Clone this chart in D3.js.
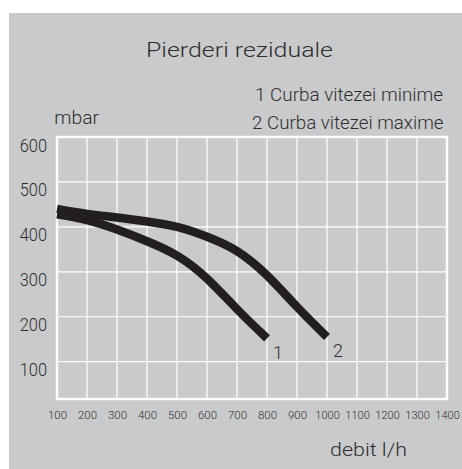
<!DOCTYPE html>
<html>
<head>
<meta charset="utf-8">
<script src="https://cdn.jsdelivr.net/npm/d3@7"></script>
<style>
  html, body { margin: 0; padding: 0; background: #ffffff; }
  svg { display: block; }
  text { font-family: Roboto, "DejaVu Sans", sans-serif; font-weight: 300; fill: #2e2e2e; }
</style>
</head>
<body>
<svg id="chart" width="462" height="469"></svg>
<script>
// ---- data ----
const xTickValues = [100, 200, 300, 400, 500, 600, 700, 800, 900, 1000, 1100, 1200, 1300, 1400];
const yTickValues = [100, 200, 300, 400, 500, 600];

// Curve 1: minimum speed (flow l/h, residual head mbar)
const curve1Flow = [100, 200, 300, 400, 500, 600, 700, 800];
const curve1Loss = [428, 415, 394, 368, 336, 285, 217, 152];

// Curve 2: maximum speed
const curve2Flow = [100, 200, 300, 400, 500, 600, 700, 800, 900, 1000];
const curve2Loss = [440, 429, 421, 412, 400, 378, 346, 292, 222, 155];

const curveLabels = ["1", "2"];
const titleText = "Pierderi reziduale";
const legendTexts = ["1 Curba vitezei minime", "2 Curba vitezei maxime"];
const yUnit = "mbar";
const xUnit = "debit l/h";

// ---- layout ----
const svg = d3.select("#chart");
const plot = { left: 57, top: 137, right: 447, bottom: 399 };

svg.append("rect")
  .attr("x", 9).attr("y", 13).attr("width", 453).attr("height", 456)
  .attr("fill", "#c9cacc");

const x = d3.scaleLinear().domain([100, 1400]).range([plot.left, plot.right]);
const y = d3.scaleLinear().domain([17, 600]).range([plot.bottom, plot.top]);

// grid
const grid = svg.append("g");
grid.selectAll("line.v").data(xTickValues).join("line")
  .attr("x1", d => x(d)).attr("x2", d => x(d))
  .attr("y1", plot.top).attr("y2", plot.bottom)
  .attr("stroke", "#ffffff").attr("stroke-width", 1.2);
grid.selectAll("line.h").data(yTickValues).join("line")
  .attr("y1", d => y(d)).attr("y2", d => y(d))
  .attr("x1", plot.left).attr("x2", plot.right)
  .attr("stroke", "#ffffff").attr("stroke-width", 1.2);
svg.append("rect")
  .attr("x", plot.left).attr("y", plot.top)
  .attr("width", plot.right - plot.left).attr("height", plot.bottom - plot.top)
  .attr("fill", "none").attr("stroke", "#ffffff").attr("stroke-width", 2.5);

// axes (d3 axes for tick placement, then styled)
const xAxis = svg.append("g")
  .attr("transform", `translate(0,${plot.bottom})`)
  .call(d3.axisBottom(x).tickValues(xTickValues).tickSize(0).tickPadding(0).tickFormat(d3.format("d")));
xAxis.select(".domain").remove();
xAxis.attr("font-family", null).attr("font-size", null);
xAxis.selectAll("text")
  .attr("y", 20).attr("dy", 0)
  .style("font-size", "11.5px")
  .style("fill", "#2e2e2e")
  .attr("textLength", d => d >= 1000 ? 24.5 : 19)
  .attr("lengthAdjust", "spacingAndGlyphs");

const yAxis = svg.append("g")
  .attr("transform", `translate(47,0)`)
  .call(d3.axisLeft(y).tickValues(yTickValues).tickSize(0).tickPadding(0).tickFormat(d3.format("d")));
yAxis.select(".domain").remove();
yAxis.attr("font-family", null).attr("font-size", null);
yAxis.selectAll("text")
  .attr("x", 0).attr("dy", 0).attr("y", 14)
  .attr("text-anchor", "end")
  .style("font-size", "18.5px")
  .style("fill", "#2e2e2e")
  .attr("textLength", 27.3)
  .attr("lengthAdjust", "spacingAndGlyphs");

// curves
const line = d3.line().x(d => x(d[0])).y(d => y(d[1])).curve(d3.curveNatural);
const c1 = curve1Flow.map((f, i) => [f, curve1Loss[i]]);
const c2 = curve2Flow.map((f, i) => [f, curve2Loss[i]]);
[c1, c2].forEach(c => {
  svg.append("path").datum(c)
    .attr("d", line)
    .attr("fill", "none")
    .attr("stroke", "#231f20")
    .attr("stroke-width", 8.5)
    .attr("stroke-linecap", "butt")
    .attr("stroke-linejoin", "round");
});

// curve end labels
[c1, c2].forEach((c, i) => {
  const last = c[c.length - 1];
  svg.append("text")
    .attr("x", x(last[0]) + 11)
    .attr("y", y(last[1]) + 20.5)
    .attr("text-anchor", "middle")
    .style("font-size", "18px")
    .text(curveLabels[i]);
});

// title
svg.append("text")
  .attr("x", 146).attr("y", 57)
  .style("font-size", "21px")
  .attr("textLength", 187).attr("lengthAdjust", "spacingAndGlyphs")
  .text(titleText);

// legend
svg.append("text")
  .attr("x", 255).attr("y", 100.5)
  .style("font-size", "18.5px")
  .attr("textLength", 188).attr("lengthAdjust", "spacingAndGlyphs")
  .text(legendTexts[0]);
svg.append("text")
  .attr("x", 252).attr("y", 129.3)
  .style("font-size", "18.5px")
  .attr("textLength", 191.5).attr("lengthAdjust", "spacingAndGlyphs")
  .text(legendTexts[1]);

// units
svg.append("text")
  .attr("x", 54.3).attr("y", 124)
  .style("font-size", "19px")
  .attr("textLength", 44.7).attr("lengthAdjust", "spacingAndGlyphs")
  .text(yUnit);
svg.append("text")
  .attr("x", 330).attr("y", 456)
  .style("font-size", "18px")
  .attr("textLength", 77).attr("lengthAdjust", "spacingAndGlyphs")
  .text(xUnit);
</script>
</body>
</html>
